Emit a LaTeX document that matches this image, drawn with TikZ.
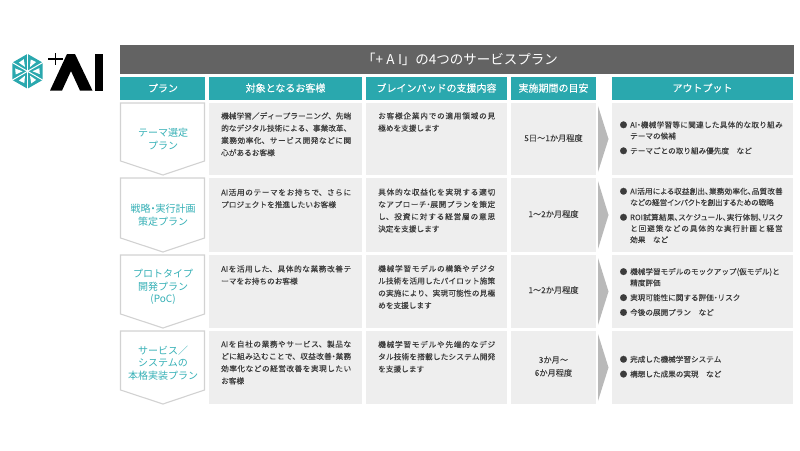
\documentclass[tikz,border=0pt]{standalone}
\usepackage{fontspec}
\setmainfont{Noto Sans CJK JP}
\newfontfamily\medfont[FakeBold=0.08]{Noto Sans CJK JP}
\XeTeXlinebreaklocale "ja"
\XeTeXlinebreakskip=0pt plus 1pt minus 0.1pt
\definecolor{teal1}{HTML}{2AA8AE}
\definecolor{teal2}{HTML}{35B0B6}
\definecolor{bar1}{HTML}{636363}
\definecolor{cell1}{HTML}{EEEEEE}
\definecolor{edge1}{HTML}{D2D2D2}
\definecolor{arrow1}{HTML}{B9B9B9}
\definecolor{ink1}{HTML}{3C3C3C}
\tikzset{
  headtext/.style={text=white,inner sep=0,font=\medfont\fontsize{10}{12}\selectfont},
  plantext/.style={text=teal2,inner sep=0,align=center,font=\fontsize{10}{12.7}\selectfont},
  usertext/.style={text=ink1,inner sep=0,anchor=west,text width=130pt,align=justify,font=\medfont\fontsize{7.65}{12.25}\selectfont},
  supporttext/.style={usertext,text width=117pt},
  timetext/.style={text=ink1,inner sep=0,align=center,font=\medfont\fontsize{8.2}{13}\selectfont},
  outtext/.style={text=ink1,inner sep=0,anchor=west,text width=163pt,align=justify,font=\medfont\fontsize{7.6}{11.2}\selectfont},
}
\newcommand{\blt}{\makebox[10.5pt][l]{●}}
\newcommand{\hng}{\hspace*{10.5pt}}
\newcommand{\nl}{\linebreak}
\newcommand{\tight}[1]{{\addfontfeature{RawFeature=+palt}#1}}
\begin{document}
\begin{tikzpicture}[x=1pt,y=-1pt]
\useasboundingbox (0,0) rectangle (800,450);
% logo
\fill[teal1] (27.5,53.9) -- (42.6,62.6) -- (42.6,80) -- (27.5,88.7) -- (12.4,80) -- (12.4,62.6) -- cycle;
\foreach \ang in {30,90,...,330}{
  \draw[white,line width=1pt] (27.5,71.3) -- ++(\ang:-18);
  \fill[white] (27.5,71.3) ++(\ang+30:-5) -- ++(\ang+5:-7.5) -- ++(\ang+115:-6) -- cycle;
}
\draw[black,line width=1.2pt] (48,59) -- (63,59) (55.5,53) -- (55.5,65);
\fill[black] (50,90.6) -- (67,54) -- (75,54) -- (92.5,90.6) -- (80,90.6) -- (71,71) -- (62,90.6) -- cycle;
\fill[black] (94.5,54) rectangle (103,90.6);
% title bar and heads
\fill[bar1] (120,45) rectangle (794,74);
\node[text=white,inner sep=0,font=\fontsize{13.5}{15}\selectfont] (title) at (460,59.5) {「{\addfontfeature{LetterSpace=25}+AI}」の4つのサービスプラン};
\foreach \xa/\xb in {120/205,209/362,366/507,511/596,612/793}
  \fill[teal1] (\xa,77) rectangle (\xb,100);
\node[headtext] (headplan) at (163,88) {プラン};
\node[headtext] (headuser) at (285.5,88) {対象となるお客様};
\node[headtext] (headsupport) at (436.5,88) {ブレインパッドの支援内容};
\node[headtext] (headtime) at (553.5,88) {実施期間の目安};
\node[headtext] (headout) at (702.5,88) {アウトプット};
% rows
\foreach \rowa/\rowb in {103/175,178/252,255/328,331/404}{
  \filldraw[fill=white,draw=edge1,line width=1.1pt] (120.5,\rowa) -- (204.5,\rowa) -- (204.5,\rowb-14) -- (163,\rowb) -- (120.5,\rowb-14) -- cycle;
  \fill[cell1] (209,\rowa) rectangle (362,\rowb);
  \fill[cell1] (366,\rowa) rectangle (507,\rowb);
  \fill[cell1] (511,\rowa) rectangle (596,\rowb);
  \fill[cell1] (612,\rowa) rectangle (793,\rowb);
  \fill[arrow1] (598,\rowa+3) -- (608.5,{(\rowa+\rowb)/2}) -- (598,\rowb-3) -- cycle;
}
% plan names
\node[plantext] (plan1) at (163,139) {テーマ選定\\プラン};
\node[plantext] (plan2) at (163,215.3) {戦略\tight{・}実行計画\\策定プラン};
\node[plantext] (plan3) at (163,287) {プロトタイプ\\開発プラン\\(PoC)};
\node[plantext] (plan4) at (163,363) {サービス／\\システムの\\本格実装プラン};
% users
\node[usertext] (user1) at (221,134.3) {機械学習／ディープラーニング、先端\nl 的なデジタル技術による、事業改革、\nl 業務効率化、サービス開発などに関\nl 心があるお客様};
\node[usertext] (user2) at (221,198.5) {AI活用のテーマをお持ちで、さらに\nl プロジェクトを推進したいお客様};
\node[usertext] (user3) at (221,275) {AIを活用した、具体的な業務改善テ\nl ーマをお持ちのお客様};
\node[usertext] (user4) at (221,362.5) {AIを自社の業務やサービス、製品な\nl どに組み込むことで、収益改善\tight{・}業務\nl 効率化などの経営改善を実現したい\nl お客様};
% support
\node[supporttext] (support1) at (378,122) {お客様企業内での適用領域の見\nl 極めを支援します};
\node[supporttext] (support2) at (378,210.5) {具体的な収益化を実現する適切\nl なアプローチ\tight{・}展開プランを策定\nl し、投資に対する経営層の意思\nl 決定を支援します};
\node[supporttext] (support3) at (378,287) {機械学習モデルの構築やデジタ\nl ル技術を活用したパイロット施策\nl の実施により、実現可能性の見極\nl めを支援します};
\node[supporttext] (support4) at (378,356.7) {機械学習モデルや先端的なデジ\nl タル技術を搭載したシステム開発\nl を支援します};
% time
\node[timetext] (time1) at (553.5,138) {5日～1か月程度};
\node[timetext] (time2) at (553.5,214) {1～2か月程度};
\node[timetext] (time3) at (553.5,290) {1～2か月程度};
\node[timetext] (time4) at (553.5,366.5) {3か月～\\6か月程度};
% outputs
\node[outtext] (out1) at (619.5,137.8) {\blt AI\tight{・}機械学習等に関連した具体的な取り組み\nl \hng テーマの候補\\[3.6pt]\blt テーマごとの取り組み優先度　など};
\node[outtext] (out2) at (619.5,215.5) {\blt \tight{AI活用による収益創出、業務効率化、品質改善}\nl \hng \tight{などの経営インパクトを創出するための戦略}\\[3.6pt]\blt \tight{ROI試算結果、スケジュール、実行体制、リスク}\nl \hng と回避策などの具体的な実行計画と経営\nl \hng 効果　など};
\node[outtext] (out3) at (619.5,292) {\blt 機械学習モデルのモックアップ(仮モデル)と\\\hng 精度評価\\[3.6pt]\blt 実現可能性に関する評価\tight{・}リスク\\[3.6pt]\blt 今後の展開プラン　など};
\node[outtext] (out4) at (619.5,366.7) {\blt 完成した機械学習システム\\[3.6pt]\blt 構想した成果の実現　など};
\end{tikzpicture}
\end{document}
